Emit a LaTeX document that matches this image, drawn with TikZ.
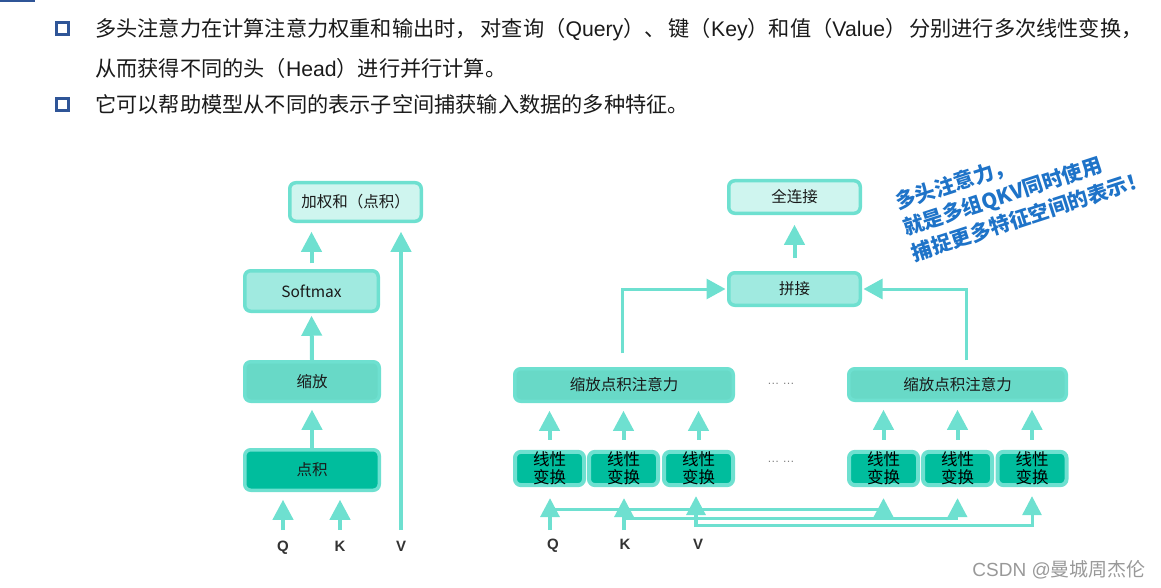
\documentclass[tikz,border=0pt]{standalone}
\usepackage{fontspec}
\setmainfont{Liberation Sans}
\newfontfamily\cjk{Noto Sans CJK SC}
\usetikzlibrary{arrows.meta}
\definecolor{edge}{RGB}{110,224,208}
\definecolor{fa}{RGB}{207,245,239}
\definecolor{fb}{RGB}{160,234,224}
\definecolor{fc}{RGB}{104,217,199}
\definecolor{fd}{RGB}{0,189,157}
\definecolor{bblue}{RGB}{47,85,151}
\definecolor{note}{RGB}{30,115,200}
\definecolor{txt}{RGB}{26,26,26}
\tikzset{
  box/.style={draw=edge, line width=3.5pt, rounded corners=6pt, inner sep=0pt,
    font=\cjk\fontsize{15.5}{18}\selectfont, text=txt},
  linbox/.style={box, line width=4pt, fill=fd, minimum width=69pt, minimum height=33pt,
    align=center, font=\cjk\fontsize{16.5}{18}\selectfont, text=black},
  uarr/.style={draw=edge, line width=4pt, -{Triangle[width=20pt,length=20pt]}},
  harr/.style={draw=edge, line width=3pt, -{Triangle[width=20pt,length=19pt]}},
  barr/.style={draw=edge, line width=3.5pt, -{Triangle[width=19pt,length=19pt]}},
  bline/.style={draw=edge, line width=3pt},
  lbl/.style={font=\bfseries\fontsize{15}{18}\selectfont, text=black!80, anchor=base, inner sep=0pt},
  topline/.style={anchor=base west, inner sep=0pt, text=txt, font=\fontsize{21.2}{25}\selectfont},
  bullet/.style={draw=bblue, line width=3pt, fill=white, minimum size=12pt, inner sep=0pt},
  dots/.style={font=\fontsize{12}{14}\selectfont, text=gray},
}
\begin{document}
\begin{tikzpicture}[x=1pt, y=-1pt]
\useasboundingbox (0,0) rectangle (1161,588);
\fill[bblue] (0,0) rectangle (35,2.5);

% header text
\node[bullet] (b1) at (62.5,28.5) {};
\node[bullet] (b2) at (62.5,104.5) {};
\node[topline] (t1) at (95,37) {{\cjk 多头注意力在计算注意力权重和输出时，\hspace{4pt}对查询（}Query{\cjk ）、\hspace{3pt}键（}Key{\cjk ）和值（}Value{\cjk ）\hspace{3pt}分别进行多次线性变换，}};
\node[topline] (t2) at (95,76.5) {{\cjk 从而获得不同的头（}Head{\cjk ）进行并行计算。}};
\node[topline] (t3) at (95,113) {{\cjk 它可以帮助模型从不同的表示子空间捕获输入数据的多种特征。}};

% left diagram
\node[box, fill=fa, minimum width=131.5pt, minimum height=38.5pt] (wsum) at (355.5,202) {加权和（点积）};
\node[box, fill=fb, minimum width=133.5pt, minimum height=40.5pt] (soft) at (311.5,291) {Softmax};
\node[box, fill=fc, minimum width=134.5pt, minimum height=39.5pt] (scale) at (312,381.5) {缩放};
\node[box, fill=fd, minimum width=134.5pt, minimum height=40.5pt] (dot) at (312,470) {点积};

\draw[uarr, shorten <=5.75pt, shorten >=8.75pt] (soft.north) -- (soft.north |- wsum.south);
\draw[uarr, shorten >=2.75pt] (scale.north) -- (soft.south);
\draw[uarr, shorten >=6.75pt] (dot.north) -- (scale.south);

\coordinate (qa) at (283,530);
\coordinate (ka) at (340,530);
\coordinate (va) at (401,530);
\draw[uarr, shorten >=7.75pt] (qa) -- (qa |- dot.south);
\draw[uarr, shorten >=7.75pt] (ka) -- (ka |- dot.south);
\draw[uarr, shorten >=8.75pt] (va) -- (va |- wsum.south);
\node[lbl] (ql) at (283,551.5) {Q};
\node[lbl] (kl) at (340,551.5) {K};
\node[lbl] (vl) at (401,551.5) {V};

% right diagram
\node[box, fill=fa, minimum width=131.5pt, minimum height=32.5pt] (fcn) at (794.5,197) {全连接};
\node[box, fill=fb, minimum width=131.5pt, minimum height=32.5pt] (cat) at (794.5,289) {拼接};
\node[box, fill=fc, minimum width=218.5pt, minimum height=32.5pt] (att1) at (624,385) {缩放点积注意力};
\node[box, fill=fc, minimum width=217.5pt, minimum height=31.5pt] (att2) at (957.5,384.5) {缩放点积注意力};

\draw[uarr, shorten <=12.75pt, shorten >=9.75pt] (cat.north) -- (fcn.south);
\draw[harr, shorten <=13.75pt, shorten >=1.5pt] ([xshift=-2pt]att1.north) |- (cat.west);
\draw[harr, shorten <=6.75pt, shorten >=1.5pt] ([xshift=8.5pt]att2.north) |- (cat.east);

\node[linbox] (l1) at (549.5,468.5) {线性\\变换};
\node[linbox] (l2) at (623.5,468.5) {线性\\变换};
\node[linbox] (l3) at (698.5,468.5) {线性\\变换};
\node[linbox] (l4) at (883.5,468.5) {线性\\变换};
\node[linbox] (l5) at (957.5,468.5) {线性\\变换};
\node[linbox] (l6) at (1032,468.5) {线性\\变换};

\foreach \l/\a in {l1/att1,l2/att1,l3/att1,l4/att2,l5/att2,l6/att2}
  \draw[uarr, shorten <=10pt, shorten >=7.75pt] (\l.north) -- (\l.north |- \a.south);

\node[dots] (d1) at (781,384) {… …};
\node[dots] (d2) at (781,462) {… …};

% inputs
\coordinate (qb) at (550,530);
\coordinate (kb) at (624,530);
\coordinate (vb) at (696,527);
\coordinate (qj) at (550,509);
\coordinate (kj) at (624,518);
\coordinate (vj) at (696,525);
\draw[barr, shorten >=11pt] (qb) -- (qb |- l1.south);
\draw[barr, shorten >=11pt] (kb) -- (kb |- l2.south);
\draw[barr, shorten >=9pt] (vb) -- (vb |- l3.south);
\draw[bline] (qj) -- (qj -| l4);
\draw[barr, shorten >=11pt] ([yshift=-6pt]qj -| l4) -- (l4.south);
\draw[bline] (kj) -- (kj -| l5);
\draw[barr, shorten >=11pt] ([yshift=3pt]kj -| l5) -- (l5.south);
\draw[barr, line width=3pt, shorten >=9pt] (vj) -| (l6.south);
\node[lbl] (q2) at (553,549) {Q};
\node[lbl] (k2) at (625,549) {K};
\node[lbl] (v2) at (698,549) {V};

% note
\node[rotate=18, align=left, text=note, inner sep=0pt,
  font=\cjk\bfseries\fontsize{20.5}{27}\selectfont] (nt) at (1021,190)
  {多头注意力，\\就是多组QKV同时使用\\捕捉更多特征空间的表示！};

% watermark
\node[anchor=east, inner sep=0pt, text=black!40, font=\fontsize{19}{22}\selectfont] (wm) at (1146,570) {CSDN @{\cjk 曼城周杰伦}};
\end{tikzpicture}
\end{document}
